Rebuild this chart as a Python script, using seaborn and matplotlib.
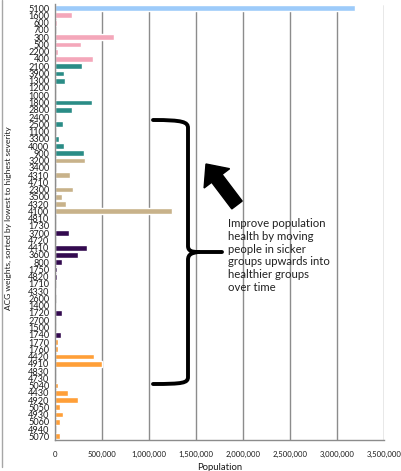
import matplotlib
matplotlib.use('Agg')
import matplotlib.pyplot as plt
import seaborn as sns
import pandas as pd
from matplotlib.path import Path
from matplotlib.patches import PathPatch, FancyArrow

# ACG weights, sorted by lowest to highest severity (top to bottom)
acg = ['5100', '1600', '600', '700', '300', '500', '2200', '400',
       '2100', '3900', '1300', '1200', '1000', '1800', '2800', '2400', '2500',
       '1100', '3300', '4000', '900',
       '3200', '3400', '4310', '4710', '2300', '3500', '4320', '4100', '4810', '1730',
       '3700', '4720', '4410', '3600', '800', '1750', '4820', '1710', '4330', '2600',
       '1400', '1720', '2700', '1500', '1740',
       '1770', '1760', '4420', '4910', '4830', '4730', '5040', '4430', '4920', '5050',
       '4930', '5060', '4940', '5070']

populacao = [3190000, 180000, 20000, 0, 630000, 280000, 30000, 400000,
             290000, 100000, 110000, 0, 0, 390000, 180000, 0, 90000,
             0, 40000, 100000, 310000,
             320000, 0, 160000, 0, 190000, 70000, 120000, 1250000, 0, 0,
             150000, 0, 340000, 240000, 70000, 20000, 20000, 0, 15000, 0,
             15000, 70000, 0, 0, 60000,
             30000, 30000, 410000, 500000, 0, 0, 30000, 140000, 240000, 50000,
             80000, 50000, 0, 50000]

faixa = (['f1'] * 1 + ['f2'] * 7 + ['f3'] * 13 + ['f4'] * 10 +
         ['f5'] * 15 + ['f6'] * 14)

cores = {'f1': '#9DCBFA', 'f2': '#F4A7BA', 'f3': '#2A8C86',
         'f4': '#C8B28A', 'f5': '#330A4F', 'f6': '#FF9F38'}

texto = ('Improve population\nhealth by moving\npeople in sicker\n'
         'groups upwards into\nhealthier groups\nover time')

df = pd.DataFrame({'acg': acg, 'populacao': populacao, 'faixa': faixa})

sns.set_style('white')
plt.rcParams['font.family'] = ['Lato', 'DejaVu Sans']

fig = plt.figure(figsize=(4.02, 4.71), dpi=100)
ax = fig.add_axes([55 / 402, 31 / 471, 329 / 402, 435.5 / 471])

sns.barplot(data=df, x='populacao', y='acg', hue='faixa', palette=cores,
            order=acg, dodge=False, legend=False, width=0.8, orient='h',
            saturation=1, ax=ax)

ax.set_xlim(0, 3500000)
ax.set_xticks(range(0, 3500001, 500000))
ax.set_xticklabels([f'{v:,}' for v in range(0, 3500001, 500000)])
ax.grid(axis='x', color='#8c8c8c', lw=1)
ax.set_axisbelow(True)
for s in ['top', 'right']:
    ax.spines[s].set_visible(False)
for s in ['left', 'bottom']:
    ax.spines[s].set_color('#8c8c8c')
    ax.spines[s].set_linewidth(1)
ax.tick_params(axis='y', length=3, width=0.8, color='#8c8c8c', pad=1,
               labelsize=6.6, labelcolor='#1a1a1a')
ax.tick_params(axis='x', length=3, width=0.8, color='#8c8c8c', pad=5,
               labelsize=5.6, labelcolor='#1a1a1a')

ax.set_ylabel('ACG weights, sorted by lowest to highest severity',
              fontsize=6, color='#1a1a1a')
ax.yaxis.set_label_coords(-0.131, 0.51)
ax.set_xlabel('Population', fontsize=6.8, color='#1a1a1a')
ax.xaxis.set_label_coords(0.5, -0.053)

# camada de anotacao em pixels
ov = fig.add_axes([0, 0, 1, 1])
ov.set_xlim(0, 402)
ov.set_ylim(471, 0)
ov.axis('off')
ov.patch.set_alpha(0)

ov.plot([2, 2], [0, 467], color='#a6a6a6', lw=1)

chave = [(153, 120), (183, 120), (188, 122), (188, 128),
         (188, 246),
         (188, 251), (192, 252), (198, 252),
         (222, 252),
         (198, 252),
         (192, 253), (188, 254), (188, 260),
         (188, 377),
         (188, 383), (183, 384), (153, 384)]
codigos = [Path.MOVETO, Path.CURVE4, Path.CURVE4, Path.CURVE4,
           Path.LINETO,
           Path.CURVE4, Path.CURVE4, Path.CURVE4,
           Path.LINETO,
           Path.MOVETO,
           Path.CURVE4, Path.CURVE4, Path.CURVE4,
           Path.LINETO,
           Path.CURVE4, Path.CURVE4, Path.CURVE4]
ov.add_patch(PathPatch(Path(chave, codigos), fill=False, lw=2.8,
                       edgecolor='black', capstyle='round'))

ov.add_patch(FancyArrow(237, 205, -31, -41, width=13, head_width=32,
                        head_length=18, length_includes_head=True,
                        color='black'))

ov.text(228, 218, texto, fontsize=8.2, color='#222222', va='top', ha='left',
        linespacing=1.2)

plt.savefig('out.png', dpi=100)
